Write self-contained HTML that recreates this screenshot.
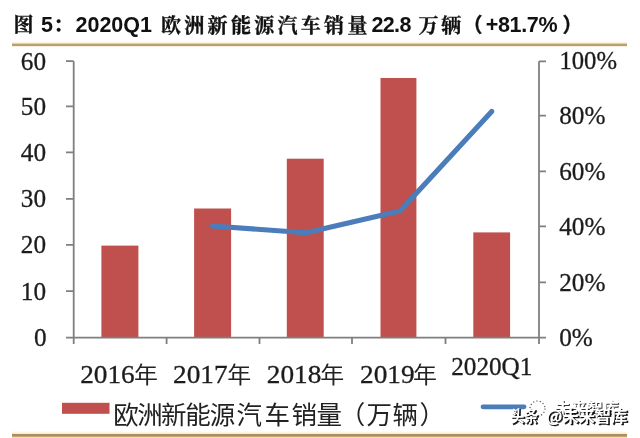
<!DOCTYPE html>
<html lang="zh">
<head>
<meta charset="utf-8">
<title>图 5：2020Q1 欧洲新能源汽车销量</title>
<style>
html,body{margin:0;padding:0;background:#fff;}
body{width:640px;height:438px;overflow:hidden;}
svg{display:block;}
.ttl{font-family:"Liberation Sans","Noto Serif CJK SC",sans-serif;font-weight:bold;font-size:21.5px;fill:#111;}
.kai{font-family:"Noto Serif CJK SC","Liberation Serif",serif;font-weight:700;font-size:20px;fill:#111;stroke:#111;stroke-width:0.35;}
.num{font-family:"Liberation Serif","Noto Sans CJK SC",serif;fill:#1c1c1c;stroke:#1c1c1c;stroke-width:0.3;}
.cjk{font-family:"Noto Sans CJK SC","Liberation Sans",sans-serif;font-weight:400;fill:#222;}
.ax{stroke:#7f7f7f;stroke-width:1.8;fill:none;}
</style>
</head>
<body>
<svg width="640" height="438" viewBox="0 0 640 438">
<rect width="640" height="438" fill="#fff"/>
<!-- title -->
<g id="title">
<text class="kai" x="13.4" y="32.2">图</text>
<text class="ttl" x="41" y="32.3">5</text>
<text class="kai" x="53.3" y="31.6">：</text>
<text class="ttl" x="75.5" y="32.3">2020Q1</text>
<text class="kai" x="161" y="32.5" letter-spacing="3.3">欧洲新能源汽车销量</text>
<text class="ttl" x="371.6" y="32.3" letter-spacing="-0.7">22.8</text>
<text class="kai" x="418.6" y="32.5" letter-spacing="2.6">万辆</text>
<text class="kai" x="462.4" y="31.6" style="font-family:'Noto Sans CJK SC',sans-serif">（</text>
<text class="ttl" x="485.8" y="32.3" letter-spacing="-0.35">+81.7%</text>
<text class="kai" x="562.5" y="31.6" style="font-family:'Noto Sans CJK SC',sans-serif">）</text>
</g>
<!-- rules -->
<rect x="12" y="42" width="615" height="2" fill="#fcf3df"/>
<rect x="12" y="45" width="615" height="2" fill="#fdf6e6"/>
<rect x="12" y="43.6" width="615" height="2.5" fill="#b99f72"/>
<rect x="12" y="431.6" width="615" height="3" fill="#fdf5e1"/>
<rect x="12" y="436" width="615" height="2" fill="#fbe0ab"/>
<rect x="12" y="433.9" width="615" height="2.8" fill="#ac8f5c"/>
<!-- bars -->
<g fill="#c0504d">
<rect x="101.4" y="245.6" width="37" height="92"/>
<rect x="194.1" y="208.5" width="37" height="129.1"/>
<rect x="286.8" y="158.7" width="36.9" height="178.9"/>
<rect x="380.5" y="78" width="35.9" height="259.6"/>
<rect x="473.3" y="232.4" width="36.8" height="105.2"/>
</g>
<!-- axes -->
<g class="ax">
<path d="M73.7 61.2V344"/>
<path d="M66 337.6H546"/>
<path d="M539 61.2V344"/>
<path d="M66 61.2h7.7M66 106.3h7.7M66 152.4h7.7M66 198.8h7.7M66 244.8h7.7M66 291.2h7.7"/>
<path d="M539 61.3h7M539 115.6h7M539 171.3h7M539 226.3h7M539 282.3h7"/>
<path d="M166.6 337.6v6.4M259.5 337.6v6.4M352 337.6v6.4M445.5 337.6v6.4"/>
</g>
<!-- line -->
<path d="M212.4 226L306 232.8L400 211L491.7 111.4" fill="none" stroke="#4b7dbb" stroke-width="5.1" stroke-linecap="round" stroke-linejoin="round"/>
<!-- left labels -->
<g class="num" text-anchor="end" font-size="25">
<text transform="translate(46 69.8) scale(1.01 1)">60</text>
<text transform="translate(46 114.9) scale(1.01 1)">50</text>
<text transform="translate(46 161) scale(1.01 1)">40</text>
<text transform="translate(46 207.3) scale(1.01 1)">30</text>
<text transform="translate(46 253.4) scale(1.01 1)">20</text>
<text transform="translate(46 299.8) scale(1.01 1)">10</text>
<text transform="translate(46.7 346.2) scale(1.01 1)">0</text>
</g>
<!-- right labels -->
<g class="num" font-size="25">
<text transform="translate(559.4 69.4) scale(1.02 1)" font-size="24.2">100%</text>
<text transform="translate(559.2 124.4) scale(1.01 1)">80%</text>
<text transform="translate(559.2 180) scale(1.01 1)">60%</text>
<text transform="translate(559.2 234.7) scale(1.01 1)">40%</text>
<text transform="translate(559.2 291) scale(1.01 1)">20%</text>
<text transform="translate(559.2 346.2) scale(1.01 1)">0%</text>
</g>
<!-- x labels -->
<g class="num" font-size="25">
<text transform="translate(80.2 383) scale(1.092 1)">2016</text>
<text transform="translate(173 383) scale(1.092 1)">2017</text>
<text transform="translate(266.8 383) scale(1.092 1)">2018</text>
<text transform="translate(360 383) scale(1.092 1)">2019</text>
<text transform="translate(451.2 375.2) scale(1.008 1)">2020Q1</text>
</g>
<g class="cjk" font-size="22.4">
<text transform="translate(133.9 382.8) scale(1.07 1)">年</text>
<text transform="translate(227.2 382.8) scale(1.07 1)">年</text>
<text transform="translate(320.3 382.8) scale(1.07 1)">年</text>
<text transform="translate(413.1 382.8) scale(1.07 1)">年</text>
</g>
<!-- legend -->
<rect x="62" y="402.8" width="47.5" height="11" fill="#c0504d"/>
<text class="cjk" y="423.7" font-size="25.5" x="113.2 137.2 161.0 185.3 209.8 236.5 264.6 291.4 316.5 339.8 366.5 392.5 419.5">欧洲新能源汽车销量（万辆）</text>
<path d="M483 406.8H524" stroke="#4b7dbb" stroke-width="4.8" stroke-linecap="round"/>
<!-- watermark -->
<g font-family='"Noto Sans CJK SC","Liberation Sans",sans-serif' font-weight="bold">
<g font-size="16">
<text x="555.8" y="415.2" fill="#333" textLength="64" lengthAdjust="spacingAndGlyphs">未来智库</text>
<text x="554.8" y="414.2" fill="#fff" textLength="64" lengthAdjust="spacingAndGlyphs">未来智库</text>
<circle cx="537.5" cy="408.5" r="7.5" fill="none" stroke="#555" stroke-width="1.2" stroke-dasharray="1.2 2.2"/>
</g>
<g font-size="16.3">
<g fill="#111" stroke="#111" stroke-width="0.5">
<text x="511.9" y="423.3" textLength="27.5" lengthAdjust="spacingAndGlyphs">头条</text>
<text x="547.6" y="423.3" textLength="81" lengthAdjust="spacingAndGlyphs">@未来智库</text>
</g>
<g fill="#fff">
<text x="510.5" y="421.9" textLength="27.5" lengthAdjust="spacingAndGlyphs">头条</text>
<text x="546.2" y="421.9" textLength="81" lengthAdjust="spacingAndGlyphs">@未来智库</text>
</g>
</g>
</g>
</svg>
</body>
</html>
